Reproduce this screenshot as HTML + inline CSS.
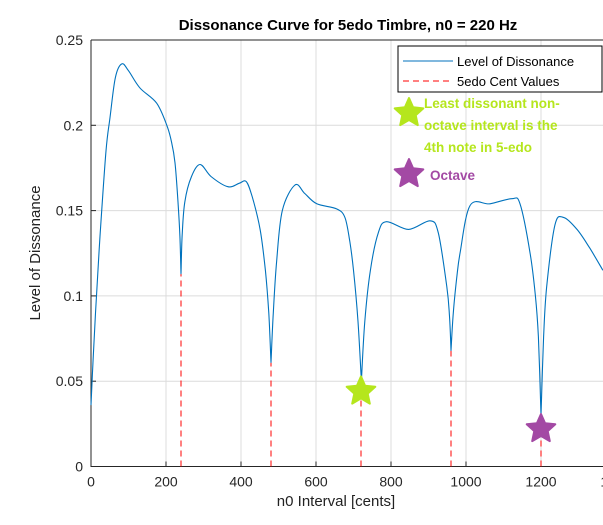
<!DOCTYPE html>
<html><head><meta charset="utf-8"><style>
html,body{margin:0;padding:0;background:#fff;width:603px;height:525px;overflow:hidden}
svg{display:block;font-family:"Liberation Sans",Arial,sans-serif}
</style></head><body>
<svg id="chart" width="603" height="525">
<text x="348" y="30" text-anchor="middle" font-size="15" font-weight="bold" fill="#000">Dissonance Curve for 5edo Timbre, n0 = 220 Hz</text>
<g id="grid"></g>
<g id="axes"></g>
<g id="marks"></g>
<text x="336" y="506" text-anchor="middle" font-size="15" fill="#222">n0 Interval [cents]</text>
<text transform="translate(40,253) rotate(-90)" text-anchor="middle" font-size="15" fill="#222">Level of Dissonance</text>
<g>
<rect x="398" y="46" width="204" height="46" fill="#fff" stroke="#000" stroke-width="1"/>
<line x1="403" y1="61" x2="453" y2="61" stroke="#0072bd" stroke-width="1"/>
<text x="457" y="66" font-size="13" fill="#000">Level of Dissonance</text>
<line x1="403" y1="81" x2="453" y2="81" stroke="#ff0000" stroke-width="1" stroke-dasharray="6,4"/>
<text x="457" y="86" font-size="13" fill="#000">5edo Cent Values</text>
</g>
<g>
<text x="424" y="108" font-size="13.5" font-weight="bold" fill="#b5e61d">Least dissonant non-</text>
<text x="424" y="130" font-size="13.5" font-weight="bold" fill="#b5e61d">octave interval is the</text>
<text x="424" y="152" font-size="13.5" font-weight="bold" fill="#b5e61d">4th note in 5-edo</text>
<text x="430" y="180" font-size="13.5" font-weight="bold" fill="#a349a4">Octave</text>
</g>
</svg>
<script>
const xTicks=[0,200,400,600,800,1000,1200,1400];
const yTicks=[0,0.05,0.1,0.15,0.2,0.25];
const yTickLabels=["0","0.05","0.1","0.15","0.2","0.25"];
const curveCents=[0,5,12,24,40,51,65,82,100,130,175,202,215,224,232,237,240,243,250,268,291,320,365,395,414,430,451,465,474,480,486,495,510,544,570,602,655,677,690,700,712,721,730,745,766,788,847,904,926,949,956,960,966,975,984,1011,1064,1122,1144,1171,1185,1193,1200,1207,1215,1237,1260,1296,1330,1365];
const curveVals=[0.036,0.06,0.09,0.135,0.185,0.205,0.228,0.236,0.232,0.222,0.213,0.200,0.19,0.178,0.155,0.135,0.113,0.135,0.155,0.170,0.177,0.170,0.164,0.166,0.167,0.158,0.139,0.115,0.09,0.061,0.09,0.12,0.15,0.165,0.16,0.154,0.151,0.146,0.132,0.115,0.085,0.05,0.085,0.115,0.137,0.1435,0.139,0.144,0.137,0.105,0.088,0.068,0.09,0.11,0.125,0.153,0.154,0.157,0.154,0.125,0.1,0.076,0.030,0.076,0.105,0.1415,0.146,0.139,0.128,0.115];
const edoCents=[240,480,720,960,1200];
const edoVals=[0.113,0.061,0.05,0.068,0.030];
const starCents=[720,1200];
const starVals=[0.044,0.022];
const starColors=["#b5e61d","#a349a4"];

const X0=91,Y0=466.5,W=525,H=426.5;
const xs=c=>X0+c/1400*W;
const ys=v=>Y0-v/0.25*H;
const NS="http://www.w3.org/2000/svg";
function mk(tag,attrs,parent){const e=document.createElementNS(NS,tag);for(const k in attrs)e.setAttribute(k,attrs[k]);parent.appendChild(e);return e;}
const grid=document.getElementById('grid'),axes=document.getElementById('axes'),marks=document.getElementById('marks');
xTicks.forEach((t,i)=>{
 const g=mk('line',{x1:xs(t),x2:xs(t),y1:ys(0.25),y2:Y0,stroke:'#dcdcdc','stroke-width':1},grid);
 
 
 const tk=mk('line',{x1:xs(t),x2:xs(t),y1:Y0,y2:Y0-5,stroke:'#262626'},axes);
 
 
 const tx=mk('text',{x:xs(t),y:Y0+20,'text-anchor':'middle','font-size':14,fill:'#262626'},axes);
 tx.textContent=String(t);
 
 
});
yTicks.forEach((t,i)=>{
 const g=mk('line',{x1:X0,x2:620,y1:ys(t),y2:ys(t),stroke:'#dcdcdc','stroke-width':1},grid);
 
 
 const tk=mk('line',{x1:X0,x2:X0+5,y1:ys(t),y2:ys(t),stroke:'#262626'},axes);
 
 
 const tx=mk('text',{x:X0-8,y:ys(t)+5,'text-anchor':'end','font-size':14,fill:'#262626'},axes);
 tx.textContent=yTickLabels[i];
 
 
});
const ax=mk('path',{d:`M${X0},${ys(0.25)}V${Y0}H620`,fill:'none',stroke:'#262626','stroke-width':1},axes);


const tp=mk('line',{x1:X0,x2:620,y1:ys(0.25),y2:ys(0.25),stroke:'#262626'},axes);


edoCents.forEach((c,i)=>{
 const l=mk('line',{x1:xs(c),x2:xs(c),y1:Y0,y2:ys(edoVals[i]),stroke:'#ff0000','stroke-width':1,'stroke-dasharray':'6,4'},marks);
 
 
});
// smooth curve: Catmull-Rom within segments, cusps at local minima
const P=curveCents.map((c,i)=>[xs(c),ys(curveVals[i])]);
const cusp=new Set([0,P.length-1]);
for(let i=1;i<P.length-1;i++){if(curveVals[i]<curveVals[i-1]&&curveVals[i]<curveVals[i+1]&&curveVals[i]<0.12)cusp.add(i);}
let d='M'+P[0][0].toFixed(1)+','+P[0][1].toFixed(1);
for(let i=0;i<P.length-1;i++){
 const p1=P[i],p2=P[i+1];
 const p0=cusp.has(i)?p1:P[i-1];
 const p3=cusp.has(i+1)?p2:P[i+2];
 const c1=[p1[0]+(p2[0]-p0[0])/6,p1[1]+(p2[1]-p0[1])/6];
 const c2=[p2[0]-(p3[0]-p1[0])/6,p2[1]-(p3[1]-p1[1])/6];
 d+=`C${c1[0].toFixed(1)},${c1[1].toFixed(1)} ${c2[0].toFixed(1)},${c2[1].toFixed(1)} ${p2[0].toFixed(1)},${p2[1].toFixed(1)}`;
}
const pl=mk('path',{d:d,fill:'none',stroke:'#0072bd','stroke-width':1.1,'stroke-linejoin':'round'},marks);


function starPath(cx,cy,R,r){let s='';for(let k=0;k<10;k++){const a=-Math.PI/2+k*Math.PI/5;const rr=k%2?r:R;s+=(k?'L':'M')+(cx+rr*Math.cos(a)).toFixed(1)+','+(cy+rr*Math.sin(a)).toFixed(1);}return s+'Z';}
starCents.forEach((c,i)=>{
 const s=mk('path',{d:starPath(xs(c),ys(starVals[i]),15,7),fill:starColors[i],stroke:starColors[i],'stroke-width':2,'stroke-linejoin':'round'},marks);
 
 
});
[[409,113,0],[409,174,1]].forEach(p=>{
 const s=mk('path',{d:starPath(p[0],p[1],15,7),fill:starColors[p[2]],stroke:starColors[p[2]],'stroke-width':2,'stroke-linejoin':'round'},document.getElementById('chart'));
 
 
});
</script>
</body></html>
